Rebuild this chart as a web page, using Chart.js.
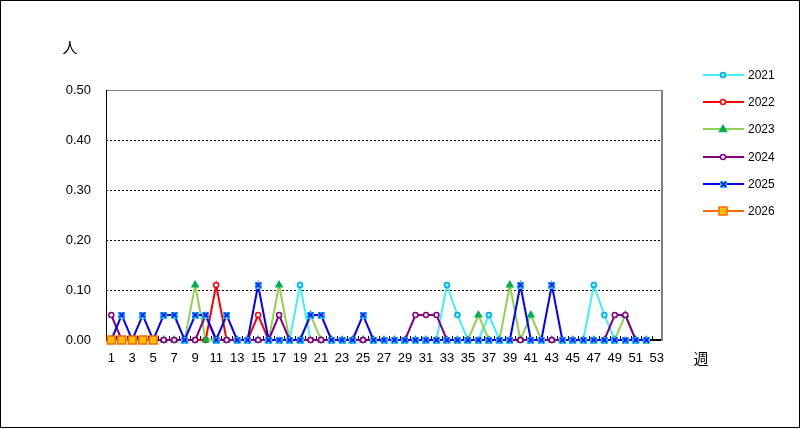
<!DOCTYPE html>
<html>
<head>
<meta charset="utf-8">
<script src="https://cdn.jsdelivr.net/npm/chart.js@4"></script>
<style>
  body { margin: 0; background: #fff; }
</style>
</head>
<body>
<canvas id="c" width="801" height="429"></canvas>
<script>
var weeks = ["1","2","3","4","5","6","7","8","9","10","11","12","13","14","15","16","17","18","19","20",
  "21","22","23","24","25","26","27","28","29","30","31","32","33","34","35","36","37","38","39","40",
  "41","42","43","44","45","46","47","48","49","50","51","52","53"];
var yTicks = [0, 0.1, 0.2, 0.3, 0.4, 0.5];

var y2021 = [0,0,0,0,0,0,0,0,0,0, 0,0,0,0,0,0,0,0,0.11,0, 0,0,0,0,0,0,0,0,0,0,
  0,0,0.11,0.05,0,0,0.05,0,0,0, 0,0,0,0,0,0,0.11,0.05,0,0, 0,0,null];
var y2022 = [0,0,0,0,0,0,0,0,0,0, 0.11,0,0,0,0.05,0,0,0,0,0, 0,0,0,0,0,0,0,0,0,0,
  0,0,0,0,0,0,0,0,0,0, 0,0,0,0,0,0,0,0,0,0, 0,0,null];
var y2023 = [0,0,0,0,0,0,0,0,0.11,0, 0,0,0,0,0,0,0.11,0,0,0.05, 0,0,0,0,0,0,0,0,0,0,
  0,0,0,0,0,0.05,0,0,0.11,0, 0.05,0,0,0,0,0,0,0,0,0.05, 0,0,null];
var y2024 = [0.05,0,0,0,0,0,0,0,0,0.05, 0,0,0,0,0,0,0.05,0,0,0, 0,0,0,0,0,0,0,0,0,0.05,
  0.05,0.05,0,0,0,0,0,0,0,0, 0,0,0,0,0,0,0,0,0.05,0.05, 0,0,null];
var y2025 = [0,0.05,0,0.05,0,0.05,0.05,0,0.05,0.05, 0,0.05,0,0,0.11,0,0,0,0,0.05, 0.05,0,0,0,0.05,0,0,0,0,0,
  0,0,0,0,0,0,0,0,0,0.11, 0,0,0.11,0,0,0,0,0,0,0, 0,0,null];
var y2026 = [0,0,0,0,0];

// marker for 2025: light blue square with a blue cross
var mark25 = document.createElement("canvas");
mark25.width = 7; mark25.height = 7;
(function () {
  var g = mark25.getContext("2d");
  g.fillStyle = "#33CCFF";
  g.fillRect(0, 0, 7, 7);
  g.strokeStyle = "#0000FF";
  g.lineWidth = 1.6;
  g.beginPath();
  g.moveTo(1, 1); g.lineTo(6, 6);
  g.moveTo(6, 1); g.lineTo(1, 6);
  g.stroke();
})();

var series = [
  { label: "2021", data: y2021, borderColor: "#40F0FF", pointStyle: "circle", pointRadius: 2.5, pointBackgroundColor: "#80FFFF", pointBorderColor: "#00A8E8", order: 6 },
  { label: "2022", data: y2022, borderColor: "#FF0000", pointStyle: "circle", pointRadius: 2.5, pointBackgroundColor: "#FFFFFF", pointBorderColor: "#FF0000", order: 5 },
  { label: "2023", data: y2023, borderColor: "#92D050", pointStyle: "triangle", pointRadius: 3.5, pointBackgroundColor: "#00B050", pointBorderColor: "#00B050", order: 4 },
  { label: "2024", data: y2024, borderColor: "#800080", pointStyle: "circle", pointRadius: 2.5, pointBackgroundColor: "#FFFFFF", pointBorderColor: "#800080", order: 3 },
  { label: "2025", data: y2025, borderColor: "#0000FF", pointStyle: mark25, pointRadius: 3.5, pointBackgroundColor: "#33CCFF", pointBorderColor: "#0000FF", order: 2 },
  { label: "2026", data: y2026, borderColor: "#FF6600", pointStyle: "rect", pointRadius: 5.5, pointBackgroundColor: "#FFC000", pointBorderColor: "#FF6600", order: 1 }
];
series.forEach(function (s) {
  s.borderWidth = 2;
  s.pointBorderWidth = 1.5;
  s.tension = 0;
  s.fill = false;
  s.clip = false;
  s.pointHoverRadius = s.pointRadius;
});

var font = "'Liberation Sans', Arial, sans-serif";

var extras = {
  id: "extras",
  beforeDatasetsDraw: function (chart) {
    var c = chart.ctx, a = chart.chartArea, xs = chart.scales.x;
    c.save();
    // frame
    c.strokeStyle = "#808080";
    c.lineWidth = 1;
    c.beginPath();
    c.moveTo(a.left, a.top + 0.5); c.lineTo(a.right, a.top + 0.5);
    c.stroke();
    c.lineWidth = 2;
    c.beginPath();
    c.moveTo(a.right, a.top); c.lineTo(a.right, a.bottom + 1);
    c.stroke();
    c.strokeStyle = "#000";
    c.lineWidth = 1;
    c.beginPath();
    c.moveTo(a.left + 0.5, a.top); c.lineTo(a.left + 0.5, a.bottom);
    c.stroke();
    c.lineWidth = 2;
    c.beginPath();
    c.moveTo(a.left, a.bottom); c.lineTo(a.right - 1, a.bottom);
    c.stroke();
    // small inner ticks between weeks
    var step = (a.right - a.left) / weeks.length;
    c.lineWidth = 1;
    c.beginPath();
    for (var i = 1; i < weeks.length; i++) {
      var x = Math.round(xs.getPixelForValue(i) - step / 2) + 0.5;
      c.moveTo(x, a.bottom); c.lineTo(x, a.bottom - 4);
    }
    c.stroke();
    c.restore();
  },
  afterDraw: function (chart) {
    var c = chart.ctx;
    c.save();
    c.strokeStyle = "#000";
    c.lineWidth = 1;
    c.strokeRect(0.5, 0.5, 799, 427);
    c.fillStyle = "#000";
    c.font = "15px 'Noto Sans CJK JP'";
    c.textAlign = "center";
    c.textBaseline = "middle";
    c.fillText("人", 70, 47);
    c.fillText("週", 701, 358);
    // legend
    var y0 = 75, gap = 27.2;
    series.forEach(function (s, i) {
      var y = Math.round(y0 + i * gap);
      c.strokeStyle = s.borderColor;
      c.lineWidth = 2;
      c.beginPath();
      c.moveTo(703, y); c.lineTo(744, y);
      c.stroke();
      if (s.pointStyle === mark25) {
        c.drawImage(mark25, 720, y - 3);
      } else {
        c.fillStyle = s.pointBackgroundColor;
        c.strokeStyle = s.pointBorderColor;
        c.lineWidth = 1.5;
        c.beginPath();
        var r = s.pointStyle === "rect" ? 4 : s.pointRadius;
        if (s.pointStyle === "circle") {
          c.arc(723, y, r, 0, Math.PI * 2);
        } else if (s.pointStyle === "rect") {
          c.rect(723 - r, y - r, 2 * r, 2 * r);
        } else {
          c.moveTo(723, y - r); c.lineTo(723 + r, y + r * 0.7); c.lineTo(723 - r, y + r * 0.7); c.closePath();
        }
        c.fill(); c.stroke();
      }
      c.fillStyle = "#000";
      c.font = "12px " + font;
      c.textAlign = "left";
      c.fillText(s.label, 748, y + 1);
    });
    c.restore();
  }
};

new Chart(document.getElementById("c"), {
  type: "line",
  data: { labels: weeks, datasets: series },
  options: {
    responsive: false,
    animation: false,
    events: [],
    layout: { padding: { left: 0, top: 90, right: 139, bottom: 59 } },
    plugins: { legend: { display: false }, tooltip: { enabled: false } },
    scales: {
      x: {
        offset: true,
        grid: { display: false, drawTicks: false },
        border: { display: false },
        afterFit: function (s) { s.height = 30; },
        ticks: {
          autoSkip: false, maxRotation: 0, padding: 11, color: "#000",
          font: { family: font, size: 13 },
          callback: function (v, i) { return i % 2 === 0 ? weeks[i] : ""; }
        }
      },
      y: {
        min: 0, max: 0.5,
        afterFit: function (s) { s.width = 106; },
        afterBuildTicks: function (s) { s.ticks = yTicks.map(function (v) { return { value: v }; }); },
        grid: {
          drawTicks: false, lineWidth: 1,
          color: function (ctx) {
            var v = ctx.tick ? ctx.tick.value : 0;
            return (v > 0.001 && v < 0.499) ? "#000" : "rgba(0,0,0,0)";
          }
        },
        border: { display: false, dash: [2, 2] },
        ticks: {
          padding: 15, color: "#000",
          font: { family: font, size: 13 },
          callback: function (v) { return v.toFixed(2); }
        }
      }
    }
  },
  plugins: [extras]
});
</script>
</body>
</html>
